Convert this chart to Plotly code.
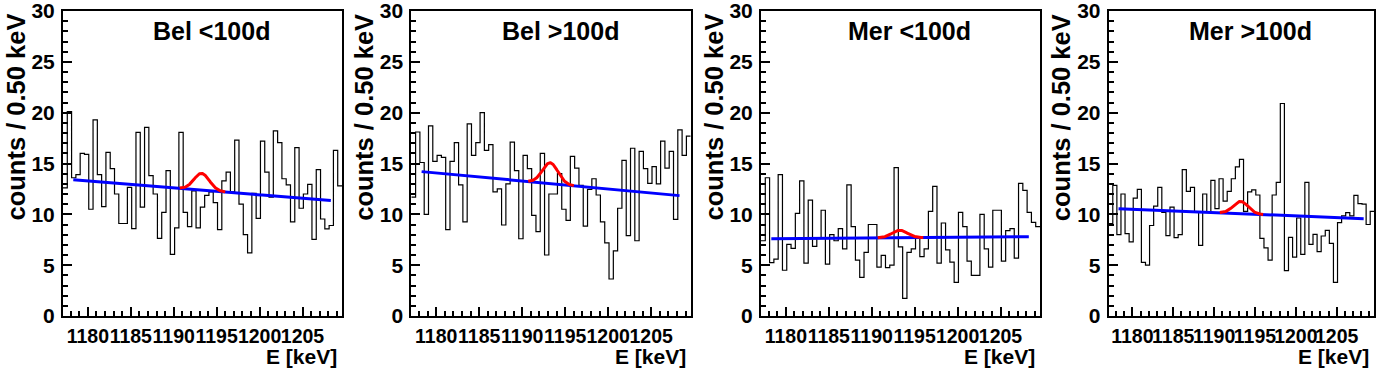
import numpy as np
import plotly.graph_objects as go

# histogram binning (keV)
E_MIN = 1177.1
BIN_W = 0.5
N_BINS = 65

titles = ["Bel <100d", "Bel >100d", "Mer <100d", "Mer >100d"]

# counts per 0.5 keV bin
bel_lt = [12.6, 20.1, 13.6, 13.9, 16.0, 15.9, 10.5, 19.3, 13.9, 10.75,
          16.1, 14.5, 12.0, 9.1, 9.1, 12.65, 8.6, 18.07, 10.7, 18.56,
          13.8, 12.0, 7.64, 10.2, 14.3, 6.07, 8.66, 18.07, 10.2, 8.8,
          12.3, 8.66, 10.7, 11.87, 12.2, 11.15, 8.5, 13.3, 14.16, 12.2,
          17.3, 11.0, 8.0, 6.2, 12.07, 9.6, 17.2, 14.16, 11.7, 18.2,
          17.05, 13.5, 12.9, 9.25, 16.56, 10.6, 12.0, 12.95, 7.54, 14.4,
          9.54, 8.56, 8.9, 16.3, 12.8]
bel_gt = [11.7, 18.1, 15.1, 10.0, 18.7, 15.2, 15.8, 15.6, 8.5, 15.2,
          17.05, 12.9, 9.25, 18.9, 15.8, 17.05, 20.0, 16.3, 16.85, 12.2,
          12.5, 8.95, 13.0, 17.1, 14.3, 7.6, 15.8, 14.5, 9.9, 8.3,
          16.0, 6.0, 12.0, 12.0, 14.0, 10.5, 9.4, 15.7, 14.55, 12.85,
          8.85, 12.46, 13.5, 11.9, 9.25, 7.2, 3.64, 6.4, 10.6, 15.3,
          7.9, 16.5, 7.4, 16.2, 14.5, 13.05, 14.7, 13.0, 17.2, 14.55,
          16.2, 9.5, 18.3, 15.8, 17.7]
mer_lt = [7.4, 13.6, 5.25, 5.6, 13.9, 4.5, 7.05, 6.65, 10.1, 13.3,
          5.2, 11.4, 6.85, 7.7, 10.4, 5.1, 8.0, 7.4, 8.6, 6.6,
          12.9, 8.8, 5.5, 3.8, 6.26, 9.0, 9.0, 4.8, 5.97, 4.75,
          5.0, 14.6, 6.8, 1.74, 6.26, 6.6, 7.8, 5.84, 6.6, 10.3,
          12.75, 5.2, 9.15, 6.5, 5.3, 3.3, 10.2, 8.8, 5.4, 4.0,
          4.0, 10.0, 6.6, 4.8, 10.4, 10.4, 5.4, 8.4, 8.6, 5.7,
          13.05, 12.36, 10.2, 9.2, 8.8]
mer_gt = [9.1, 12.85, 8.0, 12.0, 8.1, 7.3, 11.6, 12.46, 5.28, 5.0,
          8.9, 10.8, 12.66, 10.2, 7.9, 10.7, 7.7, 8.0, 14.4, 12.26,
          12.66, 10.2, 6.95, 12.0, 10.2, 13.34, 10.56, 13.5, 11.3, 12.26,
          13.5, 14.66, 15.4, 10.3, 12.2, 12.4, 11.9, 7.64, 6.7, 5.5,
          11.9, 13.15, 20.9, 4.46, 7.74, 5.8, 9.64, 6.07, 13.15, 7.05,
          8.03, 6.33, 7.87, 8.43, 7.15, 3.3, 9.18, 9.84, 10.16, 9.84,
          11.87, 11.05, 11.0, 9.0, 10.3]
counts = [bel_lt, bel_gt, mer_lt, mer_gt]

# fit results: linear background + gaussian peak
fit_lo, fit_hi = 1178.3, 1208.3
bkg_lo = [13.4, 14.2, 7.6, 10.56]
bkg_hi = [11.35, 11.84, 7.8, 9.57]
peak_amp = [1.65, 2.05, 0.73, 1.2]
peak_mu = 1193.25
peak_sigma = 0.9
peak_lo, peak_hi = 1190.7, 1196.0

# pixel geometry of the four pads
W, H = 1396, 372
plot_left = [63, 411.3, 761, 1108.7]
plot_right = [342, 690.7, 1040, 1374.3]
plot_top, plot_bottom = 11, 316

FONT = "Liberation Sans"


def px_x(v):
    return v / W


def px_y(v):
    return 1 - v / H


fig = go.Figure()
edges = E_MIN + BIN_W * np.arange(N_BINS + 1)

for i in range(4):
    xa = "x" if i == 0 else f"x{i+1}"
    ya = "y" if i == 0 else f"y{i+1}"

    vals = counts[i]
    # histogram outline
    fig.add_trace(go.Scatter(
        x=edges, y=list(vals) + [vals[-1]],
        mode="lines", line=dict(color="black", width=1.2, shape="hv"),
        xaxis=xa, yaxis=ya, showlegend=False, hoverinfo="skip"))

    def bkg(e, i=i):
        return bkg_lo[i] + (bkg_hi[i] - bkg_lo[i]) * (e - fit_lo) / (fit_hi - fit_lo)

    # background fit
    xb = np.linspace(fit_lo, fit_hi, 200)
    fig.add_trace(go.Scatter(
        x=xb, y=bkg(xb), mode="lines",
        line=dict(color="#0000ff", width=3),
        xaxis=xa, yaxis=ya, showlegend=False, hoverinfo="skip"))

    # signal + background
    xs = np.linspace(peak_lo, peak_hi, 120)
    ys = bkg(xs) + peak_amp[i] * np.exp(-0.5 * ((xs - peak_mu) / peak_sigma) ** 2)
    fig.add_trace(go.Scatter(
        x=xs, y=ys, mode="lines",
        line=dict(color="#ff0000", width=3),
        xaxis=xa, yaxis=ya, showlegend=False, hoverinfo="skip"))

    axis_common = dict(showline=True, mirror=True, linecolor="black", linewidth=2,
                       showgrid=False, zeroline=False, ticks="inside",
                       tickcolor="black", tickwidth=2, ticklen=9, automargin=False,
                       tickangle=0, ticklabeloverflow="allow")
    xkey = "xaxis" if i == 0 else f"xaxis{i+1}"
    ykey = "yaxis" if i == 0 else f"yaxis{i+1}"
    fig.update_layout({
        xkey: dict(axis_common,
                   domain=[px_x(plot_left[i]), px_x(plot_right[i])],
                   anchor=ya, range=[E_MIN, E_MIN + N_BINS * BIN_W],
                   tick0=1180, dtick=5, ticklabelstandoff=2,
                   tickfont=dict(family=FONT, size=19.5, color="black", weight="bold"),
                   minor=dict(ticks="inside", dtick=1, ticklen=5, tickwidth=2,
                              tickcolor="black")),
        ykey: dict(axis_common,
                   domain=[px_y(plot_bottom), px_y(plot_top)],
                   anchor=xa, range=[0, 30], tick0=0, dtick=5,
                   ticklabelstandoff=2,
                   tickfont=dict(family=FONT, size=21, color="black", weight="bold"),
                   minor=dict(ticks="inside", dtick=1, ticklen=5, tickwidth=2,
                              tickcolor="black")),
    })

    cx = (plot_left[i] + plot_right[i]) / 2 + 9
    fig.add_annotation(text=titles[i], xref="paper", yref="paper",
                       x=px_x(cx), y=px_y(31), xanchor="center", yanchor="middle",
                       showarrow=False,
                       font=dict(family=FONT, size=25, color="black", weight="bold"))
    fig.add_annotation(text="counts / 0.50 keV", xref="paper", yref="paper",
                       x=px_x(plot_left[i] - 47), y=px_y(plot_top + 1),
                       xanchor="center", yanchor="top", textangle=-90,
                       showarrow=False,
                       font=dict(family=FONT, size=25.5, color="black", weight="bold"))
    fig.add_annotation(text="E [keV]", xref="paper", yref="paper",
                       x=px_x(plot_right[i] - 3), y=px_y(356),
                       xanchor="right", yanchor="middle", showarrow=False,
                       font=dict(family=FONT, size=21, color="black", weight="bold"))

fig.update_layout(width=W, height=H, margin=dict(l=0, r=0, t=0, b=0),
                  paper_bgcolor="white", plot_bgcolor="white")

# the page's default body margin would push the figure 8px off the window
fig.write_html("out.html", config={"displayModeBar": False},
               post_script="document.body.style.margin = '0';")
